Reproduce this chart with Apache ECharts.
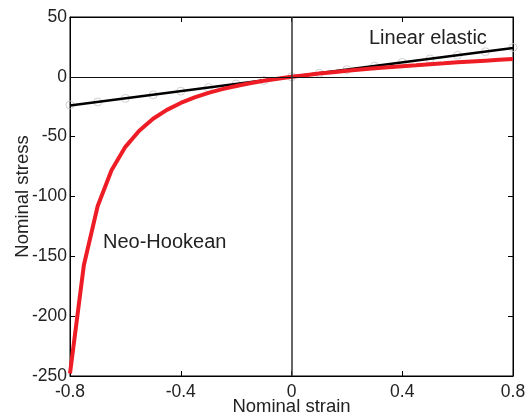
<!DOCTYPE html>
<html>
<head>
<meta charset="utf-8">
<script src="https://cdn.jsdelivr.net/npm/echarts@6/dist/echarts.min.js"></script>
<style>
  html, body { margin: 0; padding: 0; background: #fff; }
  #chart { width: 526px; height: 418px; }
</style>
</head>
<body>
<div id="chart"></div>
<script>
// strain values and stresses
let strain = [-0.8, -0.75, -0.7, -0.65, -0.6, -0.55, -0.5, -0.45, -0.4, -0.35, -0.3, -0.25, -0.2, -0.15, -0.1, -0.05,
  0, 0.05, 0.1, 0.15, 0.2, 0.25, 0.3, 0.35, 0.4, 0.45, 0.5, 0.55, 0.6, 0.65, 0.7, 0.75, 0.8];
let neoHookean = [-248, -157.5, -108, -78, -58.5, -45, -35, -27.6, -21.8, -17.2, -13.4, -10.3, -7.6, -5.3, -3.3, -1.6,
  0, 1.4, 2.7, 3.9, 5.1, 6.1, 7.1, 8, 8.9, 9.7, 10.6, 11.3, 12.1, 12.8, 13.5, 14.2, 14.9];
let linearStrain = [-0.8, 0.8];
let linearStress = [-24, 24];
let markerStrain = [-0.8, -0.7, -0.6, -0.5, -0.4, -0.3, -0.2, -0.1, 0, 0.1, 0.2, 0.3, 0.4, 0.5, 0.6, 0.7, 0.8];
let markerStress = [-23.5, -21, -18, -15, -12, -9, -6, -3, 0, 3, 6, 9, 12, 15, 18, 21, 24.5];
let xTicks = [-0.8, -0.4, 0, 0.4, 0.8];
let yTicks = [50, 0, -50, -100, -150, -200, -250];

function pairs(xs, ys) {
  return xs.map(function(x, i) { return [x, ys[i]]; });
}

let chart = echarts.init(document.getElementById("chart"));
let font = "Liberation Sans, Arial, sans-serif";
let axisBase = {
  type: "value",
  splitLine: { show: false },
  axisLine: { show: true, onZero: false, lineStyle: { color: "#000", width: 1 } },
  axisTick: { show: true, inside: true, length: 5, lineStyle: { color: "#000" } }
};

let option = {
  animation: false,
  grid: {
    left: 70, right: 13, top: 17, bottom: 42,
    containLabel: false, outerBoundsMode: "none",
    show: true, borderColor: "#000", borderWidth: 1
  },
  xAxis: [
    Object.assign({}, axisBase, {
      min: -0.8, max: 0.8, interval: 0.4,
      name: "Nominal strain", nameLocation: "middle", nameGap: 21, nameMoveOverlap: false,
      nameTextStyle: { fontFamily: font, fontSize: 18.5, color: "#222" },
      axisLabel: {
        fontFamily: font, fontSize: 17.5, color: "#222", margin: 7,
        formatter: function(v) { return xTicks.indexOf(v) >= 0 ? String(v) : ""; }
      }
    }),
    Object.assign({}, axisBase, { position: "top", min: -0.8, max: 0.8, interval: 0.4, axisLabel: { show: false } })
  ],
  yAxis: [
    Object.assign({}, axisBase, {
      min: -250, max: 50, interval: 50,
      name: "Nominal stress", nameLocation: "middle", nameGap: 38, nameMoveOverlap: false,
      nameTextStyle: { fontFamily: font, fontSize: 18.5, color: "#222" },
      axisLabel: {
        fontFamily: font, fontSize: 17.5, color: "#222", margin: 3,
        formatter: function(v) { return yTicks.indexOf(v) >= 0 ? String(v) : ""; }
      }
    }),
    Object.assign({}, axisBase, { position: "right", min: -250, max: 50, interval: 50, axisLabel: { show: false } })
  ],
  series: [
    {
      type: "scatter",
      data: pairs(markerStrain, markerStress),
      symbol: "circle",
      symbolSize: 8,
      itemStyle: { color: "rgba(255,255,255,0)", borderColor: "#c4c4c4", borderWidth: 1 },
      silent: true,
      z: 1,
      markLine: {
        silent: true,
        symbol: ["none", "none"],
        label: { show: false },
        data: [
          { yAxis: 0, lineStyle: { color: "#111", width: 1, type: "solid" } },
          { xAxis: 0, lineStyle: { color: "#333", width: 1.5, type: "solid" } }
        ]
      }
    },
    {
      type: "line",
      data: pairs(linearStrain, linearStress),
      showSymbol: false,
      lineStyle: { color: "#000", width: 2.5 },
      z: 3
    },
    {
      type: "line",
      data: pairs(strain, neoHookean),
      showSymbol: false,
      lineStyle: { color: "#ee1c25", width: 4 },
      z: 4
    }
  ],
  graphic: [
    { type: "text", left: 369, top: 28, style: { text: "Linear elastic", font: "20px " + font, fill: "#222" } },
    { type: "text", left: 103, top: 232, style: { text: "Neo-Hookean", font: "20px " + font, fill: "#222" } }
  ]
};
chart.setOption(option);
</script>
</body>
</html>
